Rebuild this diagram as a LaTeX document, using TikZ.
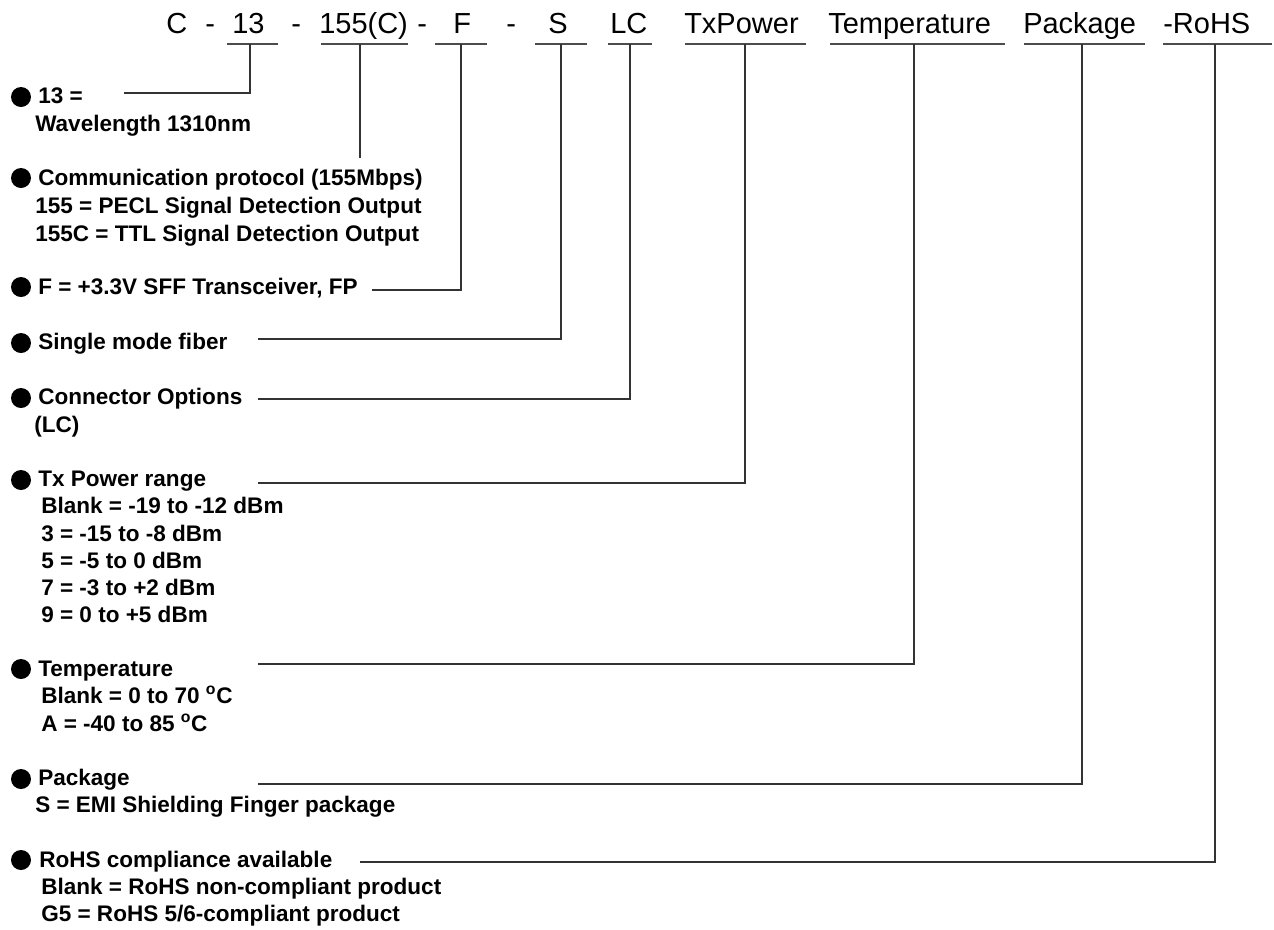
\documentclass[tikz,border=0pt]{standalone}
\usepackage{fontspec}
\setmainfont{Liberation Sans}
\begin{document}
\begin{tikzpicture}[x=0.75pt,y=-0.75pt,
  hdr/.style={font=\fontsize{21.75}{26}\selectfont, inner sep=0pt, anchor=base west},
  txt/.style={font=\bfseries\fontsize{16.9}{20}\selectfont, inner sep=0pt, anchor=base west},
  dot/.style={circle, fill=black, draw=none, inner sep=0pt, minimum size=15pt},
  conn/.style={draw=black!80, line width=0.9pt},
  uline/.style={draw=black!70, line width=1.1pt}]
\useasboundingbox[fill=white] (0,0) rectangle (1274,929);

% ---------- header ----------
\node[hdr] (hC)    at (166,33)  {C};
\node[hdr] (hd1)   at (205,33)  {-};
\node[hdr] (h13)   at (232,33)  {13};
\node[hdr] (hd2)   at (291,33)  {-};
\node[hdr] (h155)  at (319,33)  {155(C)};
\node[hdr] (hd3)   at (417,33)  {-};
\node[hdr] (hF)    at (453,33)  {F};
\node[hdr] (hd4)   at (506,33)  {-};
\node[hdr] (hS)    at (548,33)  {S};
\node[hdr] (hLC)   at (610,33)  {LC};
\node[hdr] (hTx)   at (684,33)  {TxPower};
\node[hdr] (hTemp) at (828,33)  {Temperature};
\node[hdr] (hPkg)  at (1023,33) {Package};
\node[hdr] (hRoHS) at (1163,33) {-RoHS};

% underline end points
\coordinate (a13) at (227,44);  \coordinate (b13) at (278,44);
\coordinate (a155) at (321,44); \coordinate (b155) at (408,44);
\coordinate (aF) at (435,44);   \coordinate (bF) at (487,44);
\coordinate (aS) at (535,44);   \coordinate (bS) at (587,44);
\coordinate (aLC) at (608,44);  \coordinate (bLC) at (652,44);
\coordinate (aTx) at (685,44);  \coordinate (bTx) at (806,44);
\coordinate (aTe) at (830,44);  \coordinate (bTe) at (1005,44);
\coordinate (aPk) at (1024,44); \coordinate (bPk) at (1145,44);
\coordinate (aRo) at (1163,44); \coordinate (bRo) at (1272,44);

\foreach \k in {13,155,F,S,LC,Tx,Te,Pk,Ro} {\draw[uline] (a\k) -- (b\k);}

% connector start points (on the underlines)
\coordinate (u13) at (250,44);
\coordinate (u155) at (360,44);
\coordinate (uF) at (461,44);
\coordinate (uS) at (561,44);
\coordinate (uLC) at (630,44);
\coordinate (uTx) at (745,44);
\coordinate (uTe) at (914,44);
\coordinate (uPk) at (1082,44);
\coordinate (uRo) at (1215,44);

% connector free ends
\coordinate (e13) at (124,93);
\coordinate (e155) at (360,158);
\coordinate (eF) at (372,290);
\coordinate (eS) at (258,339);
\coordinate (eLC) at (258,399);
\coordinate (eTx) at (258,483);
\coordinate (eTe) at (258,664);
\coordinate (ePk) at (258,784);
\coordinate (eRo) at (360,862);

\draw[conn] (u13) |- (e13);
\draw[conn] (u155) -- (e155);
\draw[conn] (uF) |- (eF);
\draw[conn] (uS) |- (eS);
\draw[conn] (uLC) |- (eLC);
\draw[conn] (uTx) |- (eTx);
\draw[conn] (uTe) |- (eTe);
\draw[conn] (uPk) |- (ePk);
\draw[conn] (uRo) |- (eRo);

% ---------- items ----------
\node[dot] (b1) at (21,97) {};
\node[txt] (t1a) at (38,103) {13 =};
\node[txt] (t1b) at (35,131) {Wavelength 1310nm};

\node[dot] (b2) at (21,178) {};
\node[txt] (t2a) at (38,185) {Communication protocol (155Mbps)};
\node[txt] (t2b) at (35,213) {155 = PECL Signal Detection Output};
\node[txt] (t2c) at (35,241) {155C = TTL Signal Detection Output};

\node[dot] (b3) at (21,287) {};
\node[txt] (t3a) at (38,294) {F = +3.3V SFF Transceiver, FP};

\node[dot] (b4) at (21,343) {};
\node[txt] (t4a) at (38,349) {Single mode fiber};

\node[dot] (b5) at (21,398) {};
\node[txt] (t5a) at (38,404) {Connector Options};
\node[txt] (t5b) at (34,432) {(LC)};

\node[dot] (b6) at (21,480) {};
\node[txt] (t6a) at (38,486) {Tx Power range};
\node[txt] (t6b) at (41,513) {Blank = -19 to -12 dBm};
\node[txt] (t6c) at (41,541) {3 = -15 to -8 dBm};
\node[txt] (t6d) at (41,568) {5 = -5 to 0 dBm};
\node[txt] (t6e) at (41,595) {7 = -3 to +2 dBm};
\node[txt] (t6f) at (41,622) {9 = 0 to +5 dBm};

\node[dot] (b7) at (21,669) {};
\node[txt] (t7a) at (38,676) {Temperature};
\node[txt] (t7b) at (41,703) {Blank = 0 to 70 \textsuperscript{o}C};
\node[txt] (t7c) at (41,731) {A = -40 to 85 \textsuperscript{o}C};

\node[dot] (b8) at (21,779) {};
\node[txt] (t8a) at (38,785) {Package};
\node[txt] (t8b) at (35,812) {S = EMI Shielding Finger package};

\node[dot] (b9) at (21,860) {};
\node[txt] (t9a) at (39,867) {RoHS compliance available};
\node[txt] (t9b) at (41,894) {Blank = RoHS non-compliant product};
\node[txt] (t9c) at (41,921) {G5 = RoHS 5/6-compliant product};
\end{tikzpicture}
\end{document}
